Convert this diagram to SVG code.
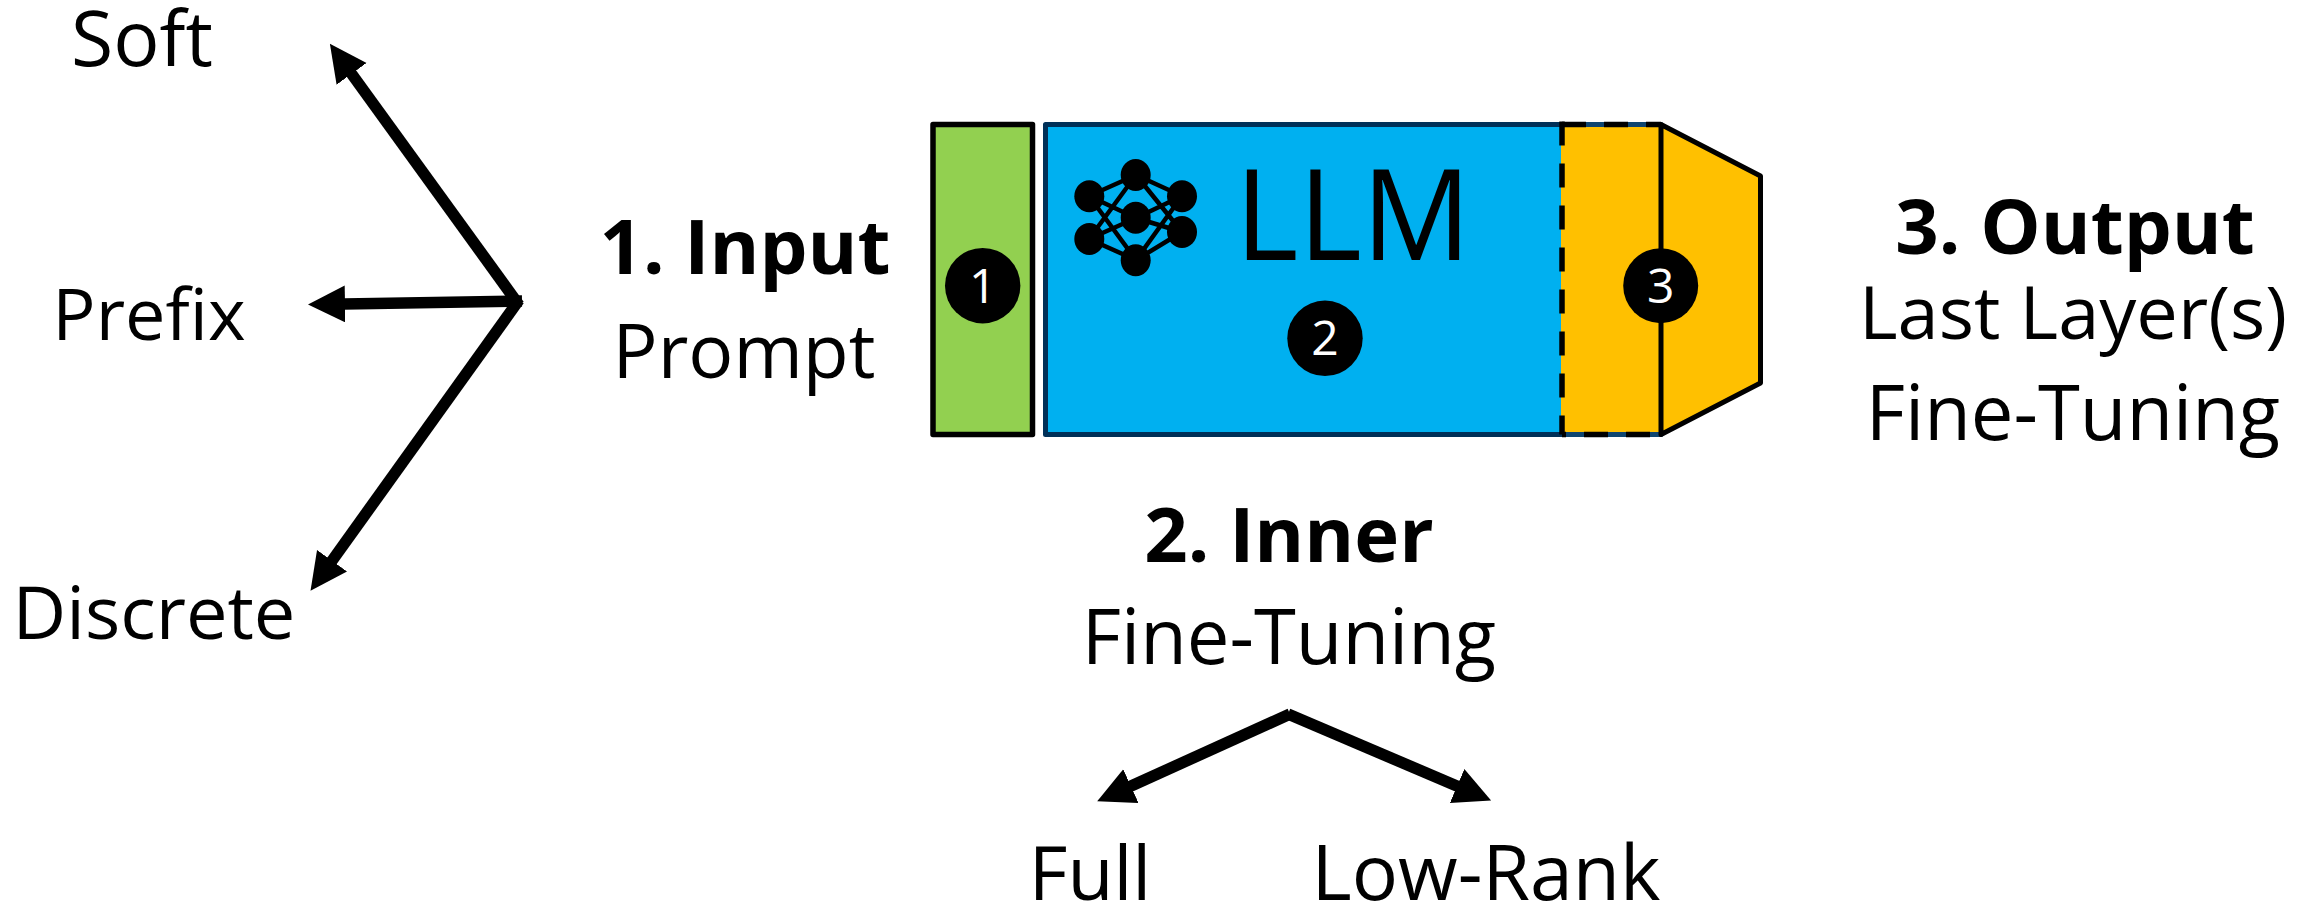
<svg xmlns="http://www.w3.org/2000/svg" width="2313" height="906" viewBox="0 0 2313 906">
<style>
text{font-family:"Open Sans","Noto Sans","Liberation Sans",sans-serif;fill:#000;text-anchor:middle}
.t{font-size:76px}
.b{font-size:76px;font-weight:700}
.n{font-size:48px;fill:#fff}
.box{stroke:#000;stroke-width:5.5;stroke-linejoin:round}
.arrow{stroke:#000;stroke-width:11.5;fill:none;marker-end:url(#head)}
.nn{fill:#000}
.nl{stroke:#000;stroke-width:4.5}
.dash{fill:none;stroke:#000;stroke-width:5.5;stroke-dasharray:24 18}
</style>
<defs>
<marker id="head" markerUnits="userSpaceOnUse" markerWidth="42" markerHeight="42" refX="1" refY="18.5" orient="auto">
<path d="M0 0L37 18.5L0 37Z" fill="#000"/>
</marker>
</defs>
<rect width="2313" height="906" fill="#fff"/>
<g id="connectors">
<line class="arrow" x1="519" y1="305" x2="351" y2="73"/>
<line class="arrow" x1="522" y1="301" x2="344" y2="304"/>
<line class="arrow" x1="519" y1="300" x2="331.5" y2="561.5"/>
<line class="arrow" x1="1290" y1="714" x2="1130" y2="786.5"/>
<line class="arrow" x1="1288" y1="714" x2="1458" y2="786.5"/>
</g>
<g id="input-block">
<rect class="box" x="933" y="124.5" width="99.5" height="310" fill="#92D050"/>
</g>
<g id="llm-block">
<rect x="1045.5" y="124.5" width="615.5" height="310" fill="#00B0F0" stroke="#003058" stroke-width="5" stroke-linejoin="round"/>
<g id="network">
<path class="nl" fill="none" d="M1089 196L1136 175M1089 196L1136 218M1089 196L1136 260M1089 239L1136 175M1089 239L1136 218M1089 239L1136 260M1182 196L1136 175M1182 196L1136 218M1182 196L1136 260M1182 232L1136 175M1182 232L1136 218M1182 232L1136 260"/>
<ellipse class="nn" cx="1089.3" cy="196.3" rx="15" ry="16"/>
<ellipse class="nn" cx="1089.3" cy="239" rx="15" ry="16"/>
<ellipse class="nn" cx="1135.7" cy="175" rx="15" ry="16"/>
<ellipse class="nn" cx="1135.7" cy="217.7" rx="15" ry="16"/>
<ellipse class="nn" cx="1135.7" cy="260.3" rx="15" ry="16"/>
<ellipse class="nn" cx="1182" cy="196.3" rx="15" ry="16"/>
<ellipse class="nn" cx="1182" cy="232" rx="15" ry="16"/>
</g>
<text x="1353" y="260" style="font-size:126px" textLength="236" lengthAdjust="spacingAndGlyphs">LLM</text>
</g>
<g id="output-block">
<rect x="1561" y="127" width="100" height="305" fill="#FFC000"/>
<path d="M1562 124.5H1661M1562 434.5H1661" fill="none" stroke="#0F4570" stroke-width="5"/>
<path d="M1661 124.5L1760.5 176V383L1661 434.5Z" fill="#FFC000" stroke="#000" stroke-width="5" stroke-linejoin="round"/>
<path class="dash" d="M1562 124.5H1661"/>
<path class="dash" d="M1562 121.5V434.5"/>
<path class="dash" style="stroke-dashoffset:20" d="M1562 434.5H1661"/>
</g>
<g id="badge-1"><circle cx="982.7" cy="285.7" r="37.7"/><text class="n" x="982.7" y="302.5">1</text></g>
<g id="badge-2"><circle cx="1325" cy="338.3" r="37.7"/><text class="n" x="1325" y="355">2</text></g>
<g id="badge-3"><circle cx="1660.7" cy="285.7" r="37.5"/><text class="n" x="1660.7" y="302.5">3</text></g>
<g id="labels">
<text class="t" x="142" y="66" style="font-size:77px">Soft</text>
<text class="t" x="149" y="340" style="font-size:72px">Prefix</text>
<text class="t" x="154" y="639" style="font-size:74px">Discrete</text>
<text class="b" x="745" y="274">1. Input</text>
<text class="t" x="744" y="378" style="font-size:75px">Prompt</text>
<text class="b" x="2075" y="254">3. Output</text>
<text class="t" x="2073" y="339" style="font-size:74px">Last Layer(s)</text>
<text class="t" x="2073" y="440">Fine-Tuning</text>
<text class="b" x="1289" y="562">2. Inner</text>
<text class="t" x="1289" y="664">Fine-Tuning</text>
<text class="t" x="1090" y="900" style="font-size:75px">Full</text>
<text class="t" x="1486" y="900" style="font-size:77px">Low-Rank</text>
</g>
</svg>
